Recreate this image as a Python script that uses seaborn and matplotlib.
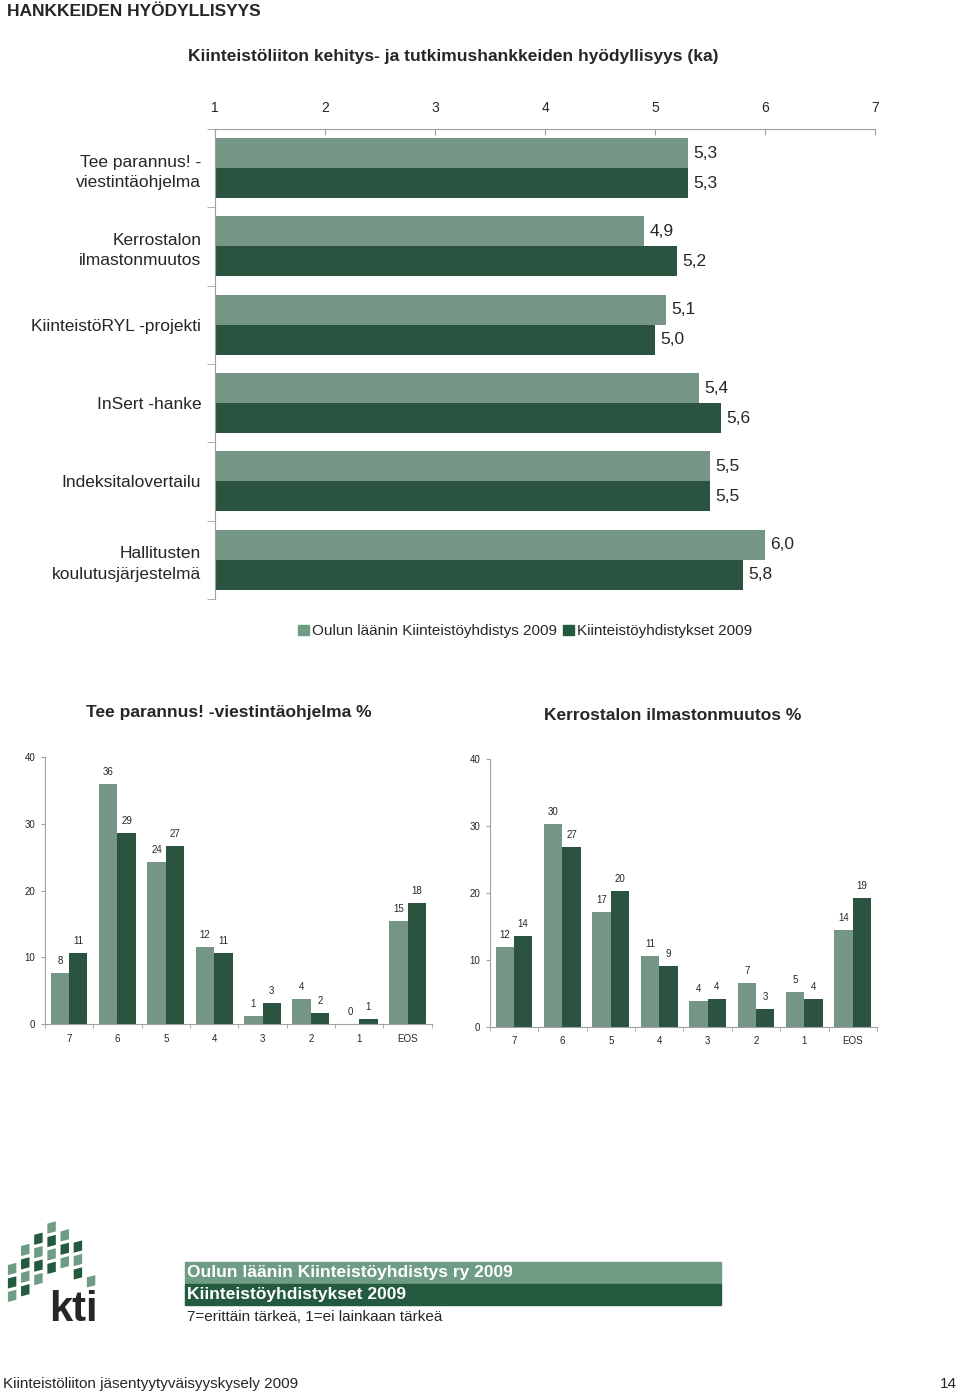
import numpy as np
import pandas as pd
import matplotlib.pyplot as plt
import seaborn as sns
from matplotlib.patches import Rectangle

sns.set_style('white')
plt.rcParams['font.family'] = ['Liberation Sans', 'DejaVu Sans']

LIGHT = '#6f9c84'
DARK = '#245b40'
GRAY = '#a0a0a0'

# Top chart data (mean on scale 1-7)
hankkeet = ['Tee parannus! -\nviestintäohjelma', 'Kerrostalon\nilmastonmuutos',
            'KiinteistöRYL -projekti', 'InSert -hanke', 'Indeksitalovertailu',
            'Hallitusten\nkoulutusjärjestelmä']
oulu_ka = [5.3, 4.9, 5.1, 5.4, 5.5, 6.0]
kaikki_ka = [5.3, 5.2, 5.0, 5.6, 5.5, 5.8]
sarjat = ['Oulun läänin Kiinteistöyhdistys 2009', 'Kiinteistöyhdistykset 2009']

# Bottom charts data (% of answers)
vastaukset = ['7', '6', '5', '4', '3', '2', '1', 'EOS']
tee_oulu = [7.7, 35.95, 24.35, 11.6, 1.25, 3.8, 0.0, 15.45]
tee_kaikki = [10.65, 28.6, 26.65, 10.65, 3.1, 1.6, 0.7, 18.2]
kerros_oulu = [11.9, 30.3, 17.1, 10.6, 3.9, 6.6, 5.2, 14.5]
kerros_kaikki = [13.6, 26.9, 20.3, 9.1, 4.2, 2.7, 4.2, 19.2]

fig = plt.figure(figsize=(9.6, 13.94), dpi=100)


def fx(x):
    return x / 960


def fy(y):
    return 1 - y / 1394


# ---- top chart
df_top = pd.DataFrame({
    'hanke': hankkeet * 2,
    'ka': oulu_ka + kaikki_ka,
    'sarja': [sarjat[0]] * len(hankkeet) + [sarjat[1]] * len(hankkeet),
})
ax = fig.add_axes([0.224, 0.5703, 0.6875, 0.3372])
sns.barplot(data=df_top, y='hanke', x='ka', hue='sarja', orient='h',
            palette=[LIGHT, DARK], width=0.766, linewidth=0, ax=ax, legend=False)
ax.set_xlim(1, 7)
ax.set_ylim(len(hankkeet) - 0.5, -0.5)
ax.set_xlabel('')
ax.set_ylabel('')
ax.xaxis.tick_top()
ax.set_xticks(range(1, 8))
ax.tick_params(axis='x', which='major', labelsize=10, length=4, direction='in',
               color=GRAY, pad=10, top=True, bottom=False)
ax.set_yticks(range(len(hankkeet)))
ax.set_yticklabels(hankkeet, fontsize=12.5, linespacing=1.45)
ax.tick_params(axis='y', which='major', length=0, pad=10)
ax.set_yticks(np.arange(-0.5, len(hankkeet)), minor=True)
ax.tick_params(axis='y', which='minor', length=6, color=GRAY, left=True)
for s in ['right', 'bottom']:
    ax.spines[s].set_visible(False)
for s in ['top', 'left']:
    ax.spines[s].set_color(GRAY)
for cont, vals in zip(ax.containers, [oulu_ka, kaikki_ka]):
    ax.bar_label(cont, labels=[f'{v:.1f}'.replace('.', ',') for v in vals],
                 padding=4, fontsize=12.5)
handles = [Rectangle((0, 0), 1, 1, color=c) for c in [LIGHT, DARK]]
ax.legend(handles, sarjat, loc='center', bbox_to_anchor=(0.47, -0.069), ncol=2,
          frameon=False, fontsize=11, handlelength=0.7, handleheight=0.7,
          handletextpad=0.2, columnspacing=0.4)

fig.text(fx(7), fy(12), 'HANKKEIDEN HYÖDYLLISYYS', fontsize=12.5,
         fontweight='bold', ha='left', va='center')
fig.text(fx(453), fy(56), 'Kiinteistöliiton kehitys- ja tutkimushankkeiden hyödyllisyys (ka)',
         fontsize=12.5, fontweight='bold', ha='center', va='center')


# ---- bottom charts
def pylvaat(rect, oulu, kaikki, otsikko, tx, ty):
    df = pd.DataFrame({
        'vastaus': vastaukset * 2,
        'pros': oulu + kaikki,
        'sarja': [sarjat[0]] * len(vastaukset) + [sarjat[1]] * len(vastaukset),
    })
    a = fig.add_axes(rect)
    sns.barplot(data=df, x='vastaus', y='pros', hue='sarja', palette=[LIGHT, DARK],
                width=0.76, linewidth=0, ax=a, legend=False)
    a.set_ylim(0, 40)
    a.set_xlim(-0.5, len(vastaukset) - 0.5)
    a.set_xlabel('')
    a.set_ylabel('')
    a.set_yticks([0, 10, 20, 30, 40])
    a.tick_params(axis='y', labelsize=7, length=3, color=GRAY, left=True, pad=4)
    a.tick_params(axis='x', which='major', labelsize=7, length=0, pad=7)
    a.set_xticks(np.arange(-0.5, len(vastaukset)), minor=True)
    a.tick_params(axis='x', which='minor', length=3, color=GRAY, bottom=True)
    for s in ['right', 'top']:
        a.spines[s].set_visible(False)
    for s in ['left', 'bottom']:
        a.spines[s].set_color(GRAY)
    for cont, vals in zip(a.containers, [oulu, kaikki]):
        a.bar_label(cont, labels=[f'{v:.0f}' for v in vals], padding=5, fontsize=7)
    fig.text(fx(tx), fy(ty), otsikko, fontsize=12.5, fontweight='bold',
             ha='center', va='center')
    return a


pylvaat([0.0467, 0.2654, 0.4031, 0.1915], tee_oulu, tee_kaikki,
        'Tee parannus! -viestintäohjelma %', 229, 713)
pylvaat([0.5102, 0.2635, 0.4033, 0.1918], kerros_oulu, kerros_kaikki,
        'Kerrostalon ilmastonmuutos %', 673, 715)

# ---- footer banner
fig.patches.append(Rectangle((fx(185), fy(1283)), fx(536), 21 / 1394,
                             transform=fig.transFigure, color=LIGHT))
fig.patches.append(Rectangle((fx(185), fy(1305)), fx(536), 21 / 1394,
                             transform=fig.transFigure, color=DARK))
fig.text(fx(187), fy(1272), 'Oulun läänin Kiinteistöyhdistys ry 2009', color='white',
         fontsize=12.5, fontweight='bold', ha='left', va='center')
fig.text(fx(187), fy(1294), 'Kiinteistöyhdistykset 2009', color='white',
         fontsize=12.5, fontweight='bold', ha='left', va='center')
fig.text(fx(187), fy(1317), '7=erittäin tärkeä, 1=ei lainkaan tärkeä',
         fontsize=11, ha='left', va='center')
fig.text(fx(3), fy(1384), 'Kiinteistöliiton jäsentyytyväisyyskysely 2009',
         fontsize=11, ha='left', va='center')
fig.text(fx(957), fy(1384), '14', fontsize=11, ha='right', va='center')

# ---- kti logo
lg = fig.add_axes([fx(6), fy(1330), fx(94), 112 / 1394])
lg.set_xlim(0, 1)
lg.set_ylim(0, 1)
lg.axis('off')
columns = [(0.02, 0.25, 0.55), (0.16, 0.30, 0.72), (0.30, 0.40, 0.88),
           (0.44, 0.50, 0.92), (0.58, 0.55, 0.84), (0.72, 0.45, 0.70),
           (0.86, 0.38, 0.50)]
for i, (x0, y0, y1) in enumerate(columns):
    y = y0
    k = 0
    while y < y1:
        c = LIGHT if (i + k) % 2 == 0 else DARK
        lg.add_patch(plt.Polygon([[x0, y], [x0 + 0.09, y + 0.02], [x0 + 0.09, y + 0.11],
                                  [x0, y + 0.09]], color=c, lw=0))
        y += 0.12
        k += 1
lg.text(0.98, 0.0, 'kti', fontsize=30, fontweight='bold', ha='right', va='bottom')

fig.savefig('out.png', dpi=100)
